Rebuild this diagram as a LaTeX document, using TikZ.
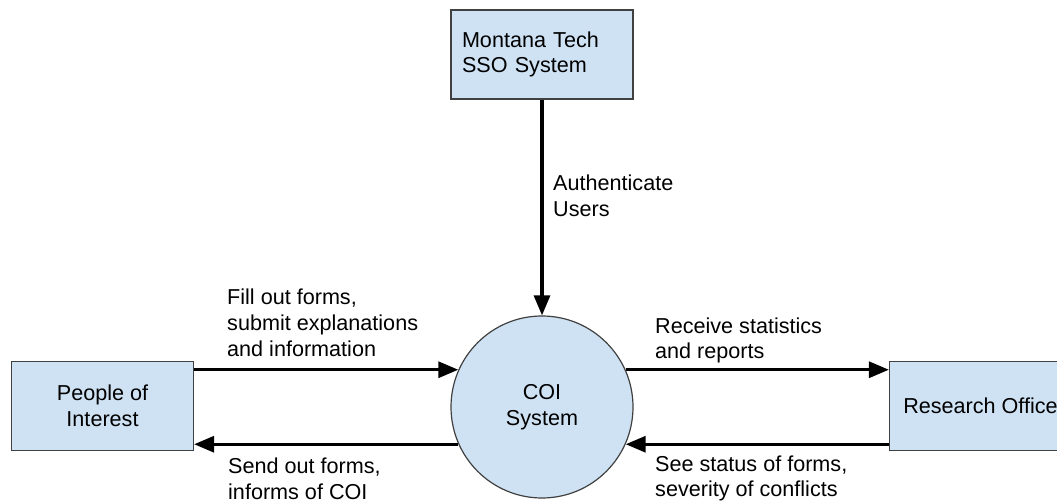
\documentclass[tikz,border=0pt]{standalone}
\usepackage{fontspec}
\setmainfont{Liberation Sans}
\usetikzlibrary{arrows.meta}
\definecolor{boxfill}{HTML}{CFE2F3}
\definecolor{boxline}{HTML}{404040}
\begin{document}
\begin{tikzpicture}[x=1pt,y=1pt,
  every node/.style={font=\fontsize{21.6}{25.8}\selectfont},
  entity/.style={draw=boxline,line width=1.2pt,fill=boxfill,minimum width=182pt,minimum height=89pt,align=center,inner sep=0pt},
  proc/.style={draw=boxline,line width=1.2pt,fill=boxfill,circle,minimum size=182pt,align=center,inner sep=0pt},
  arr/.style={line width=3.1pt,-{Triangle[length=20pt,width=16pt]}},
  lbl/.style={align=left,anchor=west,inner sep=0pt}]
\useasboundingbox (0,0) rectangle (1057,502);
\clip (0,0) rectangle (1057,502);
\fill[white] (0,0) rectangle (1057,502);
\node[entity,text width=160pt,inner sep=11pt,align=left,minimum width=0pt] (sso) at (542,447.5) {Montana Tech\\SSO System};
\node[entity] (poi) at (102.5,96) {People of\\Interest};
\node[entity] (ro) at (980.5,96) {Research Office};
\node[proc] (coi) at (542,95) {COI\\System};
\draw[arr] (sso.south) -- (coi.north);
\draw[arr] (poi.east |- coi.156) -- (coi.156);
\draw[arr] (coi.204) -- (poi.east |- coi.204);
\draw[arr] (coi.24) -- (ro.west |- coi.24);
\draw[arr] (ro.west |- coi.-24) -- (coi.-24);
\node[lbl] (l1) at (553,306) {Authenticate\\Users};
\node[lbl] (l2) at (227,179) {Fill out forms,\\submit explanations\\and information};
\node[lbl] (l3) at (655,161.5) {Receive statistics\\and reports};
\node[lbl] (l4) at (228,23.5) {Send out forms,\\informs of COI};
\node[lbl] (l5) at (655,23.5) {See status of forms,\\severity of conflicts};
\end{tikzpicture}
\end{document}
